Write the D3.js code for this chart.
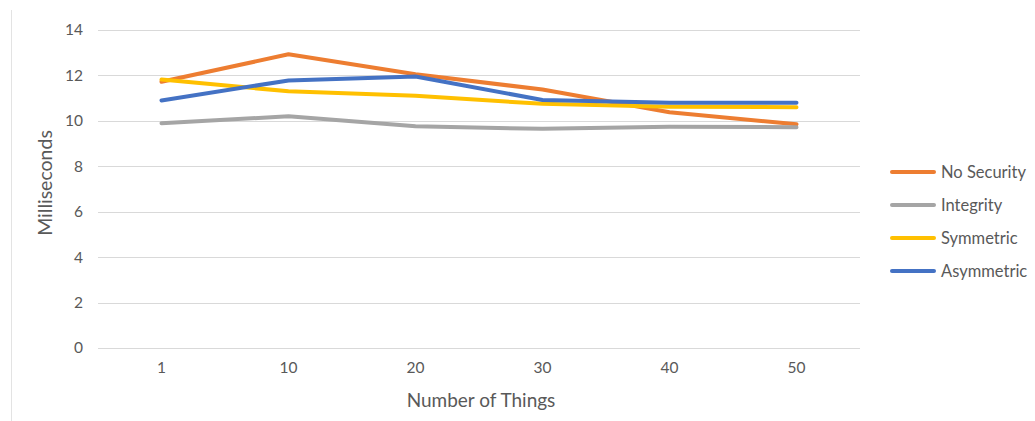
<!DOCTYPE html>
<html>
<head>
<meta charset="utf-8">
<script src="https://cdn.jsdelivr.net/npm/d3@7"></script>
<style>
  html, body { margin: 0; padding: 0; background: #fff; }
  svg { display: block; font-family: Lato, "Open Sans", sans-serif; }
</style>
</head>
<body>
<svg id="chart" width="1035" height="421"></svg>
<script>
// Response time per number of things, for each security mode
const categories = ["1", "10", "20", "30", "40", "50"];
const seriesNames = ["No Security", "Integrity", "Symmetric", "Asymmetric"];
const noSecurity = [11.72, 12.93, 12.05, 11.38, 10.38, 9.85];
const integrity  = [9.9, 10.2, 9.76, 9.65, 9.74, 9.72];
const symmetric  = [11.82, 11.3, 11.1, 10.75, 10.62, 10.6];
const asymmetric = [10.9, 11.78, 11.95, 10.92, 10.8, 10.8];
const yTicks = [0, 2, 4, 6, 8, 10, 12, 14];
const colors = ["#ED7D31", "#A5A5A5", "#FFC000", "#4472C4"];

const series = [noSecurity, integrity, symmetric, asymmetric].map((values, i) => ({
  name: seriesNames[i],
  color: colors[i],
  values
}));

const svg = d3.select("#chart");
const plotLeft = 98, plotRight = 860, plotTop = 30, plotBottom = 348;

const x = d3.scaleBand().domain(categories).range([plotLeft, plotRight]);
const y = d3.scaleLinear().domain([0, 14]).range([plotBottom, plotTop]);

// chart frame edge
svg.append("line")
  .attr("x1", 11.5).attr("x2", 11.5).attr("y1", 10).attr("y2", 421)
  .attr("stroke", "#e3e3e3").attr("stroke-width", 1);

// horizontal gridlines
svg.append("g").selectAll("line").data(yTicks).join("line")
  .attr("x1", plotLeft).attr("x2", plotRight)
  .attr("y1", d => Math.round(y(d)) + 0.5).attr("y2", d => Math.round(y(d)) + 0.5)
  .attr("stroke", "#d9d9d9").attr("stroke-width", 1);

// y axis labels
const yAxis = d3.axisLeft(y).tickValues(yTicks).tickSize(0).tickPadding(0);
const gy = svg.append("g").attr("transform", "translate(83,0)").call(yAxis);
gy.select(".domain").remove();
gy.selectAll("text")
  .attr("fill", "#595959").style("font-size", "15.5px").style("font-family", "Lato, sans-serif");

// x axis labels
const xAxis = d3.axisBottom(x).tickSize(0).tickPadding(0);
const gx = svg.append("g").attr("transform", "translate(0,362)").call(xAxis);
gx.select(".domain").remove();
gx.selectAll("text")
  .attr("fill", "#595959").style("font-size", "15.5px").style("font-family", "Lato, sans-serif");

// axis titles
svg.append("text")
  .attr("x", (plotLeft + plotRight) / 2 + 2).attr("y", 407)
  .attr("text-anchor", "middle")
  .attr("fill", "#595959").style("font-size", "19px")
  .text("Number of Things");

svg.append("text")
  .attr("transform", "translate(52,183) rotate(-90)")
  .attr("text-anchor", "middle")
  .attr("fill", "#595959").style("font-size", "19.5px")
  .text("Milliseconds");

// series lines
const line = d3.line()
  .x((d, i) => x(categories[i]) + x.bandwidth() / 2)
  .y(d => y(d));

svg.append("g").selectAll("path").data(series).join("path")
  .attr("d", d => line(d.values))
  .attr("fill", "none")
  .attr("stroke", d => d.color)
  .attr("stroke-width", 4)
  .attr("stroke-linecap", "round")
  .attr("stroke-linejoin", "round");

// legend
const legend = svg.append("g").selectAll("g").data(series).join("g")
  .attr("transform", (d, i) => `translate(892,${172 + i * 33})`);
legend.append("line")
  .attr("x1", 0).attr("x2", 42).attr("y1", 0).attr("y2", 0)
  .attr("stroke", d => d.color).attr("stroke-width", 4)
  .attr("stroke-linecap", "round");
legend.append("text")
  .attr("x", 49).attr("y", 0).attr("dy", "0.35em")
  .attr("fill", "#595959").style("font-size", "16.5px")
  .text(d => d.name);
</script>
</body>
</html>
